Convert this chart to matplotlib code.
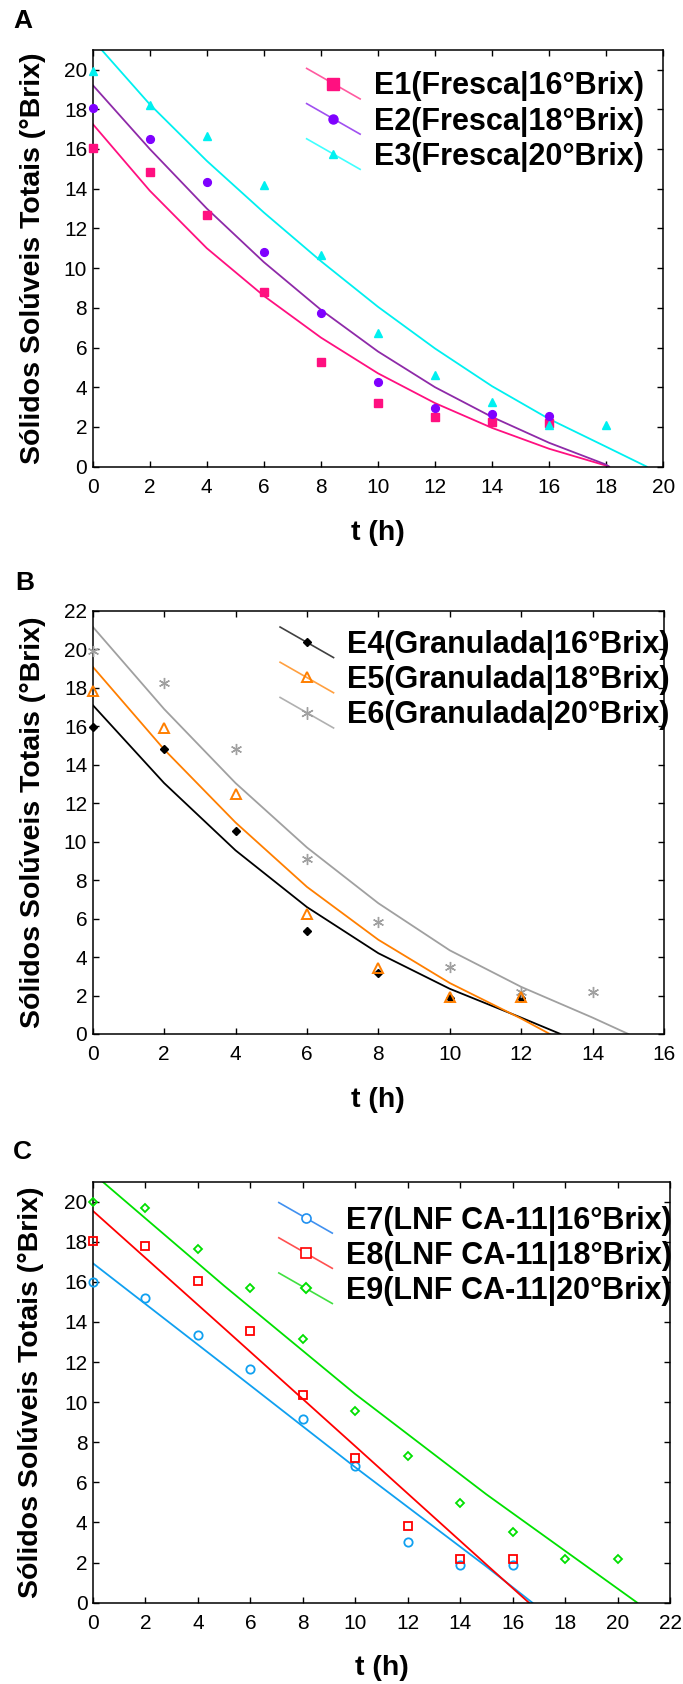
import matplotlib
matplotlib.use("Agg")
import matplotlib.pyplot as plt
from matplotlib.lines import Line2D
from matplotlib.legend_handler import HandlerBase

plt.rcParams["font.family"] = ["Liberation Sans", "DejaVu Sans"]

# ---- data A (Fresca) ----
tA = [0, 2, 4, 6, 8, 10, 12, 14, 16]
tA3 = [0, 2, 4, 6, 8, 10, 12, 14, 16, 18]
e1 = [16.03, 14.82, 12.66, 8.78, 5.25, 3.21, 2.50, 2.23, 2.18]
e2 = [18.05, 16.52, 14.35, 10.79, 7.74, 4.26, 2.97, 2.65, 2.57]
e3 = [19.93, 18.21, 16.64, 14.18, 10.66, 6.71, 4.62, 3.24, 2.12, 2.12]
fit1_t = [0, 2, 4, 6, 8, 10, 12, 14, 16, 18, 18.1]
fit1_y = [17.26, 13.9, 11.0, 8.6, 6.5, 4.7, 3.2, 1.95, 0.9, 0.05, 0]
fit2_t = [0, 2, 4, 6, 8, 10, 12, 14, 16, 18, 18.1]
fit2_y = [19.22, 16.0, 13.0, 10.3, 7.9, 5.8, 4.0, 2.5, 1.2, 0.1, 0]
fit3_t = [0, 2, 4, 6, 8, 10, 12, 14, 16, 18, 19.42]
fit3_y = [21.5, 18.25, 15.4, 12.8, 10.35, 8.05, 5.95, 4.05, 2.4, 1.0, 0]

# ---- data B (Granulada) ----
tB = [0, 2, 4, 6, 8, 10, 12]
tB6 = [0, 2, 4, 6, 8, 10, 12, 14]
e4 = [15.95, 14.81, 10.56, 5.34, 3.16, 1.89, 1.89]
e5 = [17.86, 15.93, 12.48, 6.26, 3.42, 1.94, 1.94]
e6 = [19.92, 18.27, 14.81, 9.08, 5.81, 3.5, 2.2, 2.2]
fit4_t = [0, 2, 4, 6, 8, 10, 12, 13.1]
fit4_y = [17.11, 13.05, 9.55, 6.6, 4.2, 2.35, 0.85, 0]
fit5_t = [0, 2, 4, 6, 8, 10, 12, 12.8]
fit5_y = [19.1, 14.8, 11.0, 7.65, 4.9, 2.65, 0.8, 0]
fit6_t = [0, 2, 4, 6, 8, 10, 12, 14, 15.0]
fit6_y = [21.18, 16.9, 13.05, 9.7, 6.8, 4.35, 2.45, 0.85, 0]

# ---- data C (LNF CA-11) ----
tC = [0, 2, 4, 6, 8, 10, 12, 14, 16]
tC9 = [0, 2, 4, 6, 8, 10, 12, 14, 16, 18, 20]
e7 = [16.01, 15.21, 13.35, 11.67, 9.16, 6.83, 3.03, 1.88, 1.88]
e8 = [18.05, 17.81, 16.04, 13.53, 10.37, 7.23, 3.84, 2.16, 2.16]
e9 = [19.97, 19.67, 17.64, 15.71, 13.13, 9.58, 7.32, 4.95, 3.51, 2.16, 2.16]
fit7_t = [0, 5, 10, 15, 16.75]
fit7_y = [16.92, 11.85, 6.75, 1.8, 0]
fit8_t = [0, 5, 10, 15, 16.62]
fit8_y = [19.53, 13.68, 7.8, 1.9, 0]
fit9_t = [0, 5, 10, 15, 20.75]
fit9_y = [21.4, 15.8, 10.4, 5.4, 0]

labelsA = ["E1(Fresca|16°Brix)", "E2(Fresca|18°Brix)", "E3(Fresca|20°Brix)"]
labelsB = ["E4(Granulada|16°Brix)", "E5(Granulada|18°Brix)", "E6(Granulada|20°Brix)"]
labelsC = ["E7(LNF CA-11|16°Brix)", "E8(LNF CA-11|18°Brix)", "E9(LNF CA-11|20°Brix)"]

ASTER = (6, 2, 0)


# legenda com linha diagonal
class DiagHandler(HandlerBase):
    def create_artists(self, legend, orig_handle, xdescent, ydescent,
                       width, height, fontsize, trans):
        cy = height / 2 - ydescent
        dy = 0.5 * fontsize
        ln = Line2D([-xdescent, width - xdescent], [cy + dy, cy - dy],
                    color=orig_handle.get_color(), lw=orig_handle.get_linewidth(),
                    transform=trans)
        mk = Line2D([width / 2 - xdescent], [cy], linestyle="none",
                    marker=orig_handle.get_marker(),
                    markersize=orig_handle.get_markersize(),
                    markerfacecolor=orig_handle.get_markerfacecolor(),
                    markeredgecolor=orig_handle.get_markeredgecolor(),
                    markeredgewidth=orig_handle.get_markeredgewidth(),
                    transform=trans)
        return [ln, mk]


def style_ax(ax, xmax, ymax, ymaxlim):
    ax.set_xlim(0, xmax)
    ax.set_ylim(0, ymaxlim)
    ax.set_xticks(range(0, xmax + 1, 2))
    ax.set_yticks(range(0, ymax + 1, 2))
    ax.tick_params(direction="in", top=True, right=True, length=4, width=1,
                   labelsize=15)
    ax.tick_params(axis="x", pad=8)
    ax.tick_params(axis="y", pad=4)
    for s in ax.spines.values():
        s.set_linewidth(1.1)
    ax.set_ylabel("Sólidos Solúveis Totais (°Brix)", fontsize=20.5,
                  fontweight="bold", va="center")
    ax.set_xlabel("t (h)", fontsize=20.5, fontweight="bold", va="center")


def add_legend(ax, handles, labels, x, y):
    leg = ax.legend(handles, labels, loc="upper left", bbox_to_anchor=(x, y),
                    frameon=False, borderpad=0, borderaxespad=0,
                    handlelength=1.75, handletextpad=0.45, labelspacing=0.17,
                    prop={"size": 22, "weight": "bold"},
                    handler_map={Line2D: DiagHandler()})
    return leg


fig = plt.figure(figsize=(6.83, 16.84), dpi=100)

# ------------------------------ A ------------------------------
axA = fig.add_axes([0.1357, 0.7229, 0.8354, 0.2476])
pink, purple, purple_ln, cyan = "#FF1080", "#7F00FF", "#8E2AA8", "#00F0F0"
axA.plot(fit1_t, fit1_y, color=pink, lw=1.3)
axA.plot(fit2_t, fit2_y, color=purple_ln, lw=1.3)
axA.plot(fit3_t, fit3_y, color=cyan, lw=1.3)
axA.plot(tA, e1, "s", color=pink, ms=5.8, clip_on=False, zorder=3)
axA.plot(tA, e2, "o", color=purple, ms=5.6, clip_on=False, zorder=3)
axA.plot(tA3, e3, "^", color=cyan, ms=6.2, clip_on=False, zorder=3)
style_ax(axA, 20, 20, 21)
hA = [Line2D([], [], color="#FF5AA0", lw=1.2, marker="s", ms=8, mfc=pink, mec=pink),
      Line2D([], [], color="#A050F0", lw=1.2, marker="o", ms=6.5, mfc=purple, mec=purple),
      Line2D([], [], color="#40FFFF", lw=1.2, marker="^", ms=5.5, mfc=cyan, mec=cyan)]
add_legend(axA, hA, labelsA, 0.375, 0.948)
axA.yaxis.set_label_coords(-0.105, 0.5)
axA.xaxis.set_label_coords(0.5, -0.159)
fig.text(13 / 683, 1 - 28 / 1684, "A", fontsize=19, fontweight="bold")

# ------------------------------ B ------------------------------
axB = fig.add_axes([0.1357, 0.3860, 0.8365, 0.2512])
orange, gray = "#FF7F00", "#A0A0A0"
axB.plot(fit4_t, fit4_y, color="black", lw=1.3)
axB.plot(fit5_t, fit5_y, color=orange, lw=1.3)
axB.plot(fit6_t, fit6_y, color=gray, lw=1.3)
axB.plot(tB, e4, "D", color="black", ms=4.2, clip_on=False, zorder=3)
axB.plot(tB, e5, "^", mfc="none", mec=orange, mew=1.4, ms=6.5, clip_on=False, zorder=4)
axB.plot(tB6, e6, marker=ASTER, ls="none", color=gray, mew=1.0, ms=8, clip_on=False, zorder=3)
style_ax(axB, 16, 22, 22)
hB = [Line2D([], [], color="#404040", lw=1.2, marker="D", ms=4.5, mfc="black", mec="black"),
      Line2D([], [], color="#FFA040", lw=1.2, marker="^", ms=6.5, mfc="none", mec=orange, mew=1.4),
      Line2D([], [], color="#B0B0B0", lw=1.2, marker=ASTER, ms=9, mfc=gray, mec=gray, mew=1.0)]
add_legend(axB, hB, labelsB, 0.328, 0.955)
axB.yaxis.set_label_coords(-0.105, 0.5)
axB.xaxis.set_label_coords(0.5, -0.157)
fig.text(15 / 683, 1 - 590 / 1684, "B", fontsize=19, fontweight="bold")

# ------------------------------ C ------------------------------
axC = fig.add_axes([0.1362, 0.04828, 0.8448, 0.2501])
blue, red, green = "#10A0F0", "#FF0000", "#00E000"
axC.plot(fit7_t, fit7_y, color=blue, lw=1.3)
axC.plot(fit8_t, fit8_y, color=red, lw=1.3)
axC.plot(fit9_t, fit9_y, color=green, lw=1.3)
axC.plot(tC, e7, "o", mfc="none", mec=blue, mew=1.3, ms=6, clip_on=False, zorder=3)
axC.plot(tC, e8, "s", mfc="none", mec=red, mew=1.3, ms=6, clip_on=False, zorder=3)
axC.plot(tC9, e9, "D", mfc="none", mec=green, mew=1.3, ms=4.3, clip_on=False, zorder=3)
style_ax(axC, 22, 20, 21)
hC = [Line2D([], [], color="#4090F0", lw=1.2, marker="o", ms=6.5, mfc="white", mec="#2090F0", mew=1.2),
      Line2D([], [], color="#FF5050", lw=1.2, marker="s", ms=6.5, mfc="white", mec=red, mew=1.2),
      Line2D([], [], color="#40E040", lw=1.2, marker="D", ms=4.8, mfc="white", mec=green, mew=1.4)]
add_legend(axC, hC, labelsC, 0.322, 0.943)
axC.yaxis.set_label_coords(-0.107, 0.5)
axC.xaxis.set_label_coords(0.5, -0.155)
fig.text(13 / 683, 1 - 1159 / 1684, "C", fontsize=19, fontweight="bold")

fig.savefig("out.png", dpi=100)
